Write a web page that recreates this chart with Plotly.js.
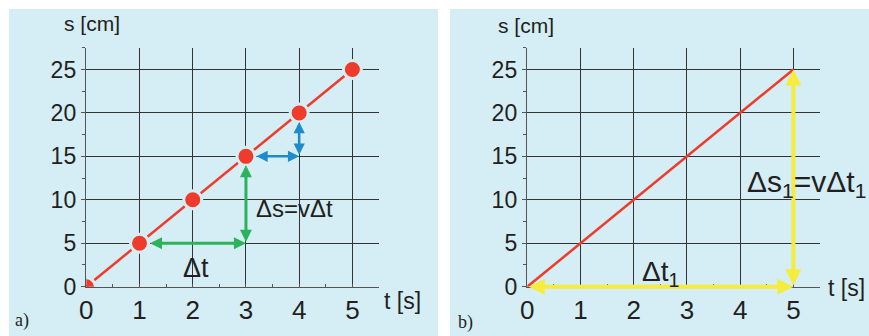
<!DOCTYPE html>
<html>
<head>
<meta charset="utf-8">
<script src="https://cdn.plot.ly/plotly-3.0.1.min.js"></script>
<style>html,body{margin:0;padding:0;background:#fff;}#chart{width:869px;height:336px;}</style>
</head>
<body>
<div id="chart"></div>
<script>
// Data
var tValues = [0, 1, 2, 3, 4, 5];          // t [s]
var sValues = [0, 5, 10, 15, 20, 25];      // s [cm]
var xTicks = [0, 1, 2, 3, 4, 5];
var yTicks = [0, 5, 10, 15, 20, 25];
var xTitle = 't [s]';
var yTitle = 's [cm]';
var panelLabels = ['a)', 'b)'];
var labelA1 = '\u0394s=v\u0394t';
var labelA2 = '\u0394t';
var labelB1 = '\u0394s<sub>1</sub>=v\u0394t<sub>1</sub>';
var labelB2 = '\u0394t<sub>1</sub>';

var BG = '#d5edf5';
var RED = '#ee3b2c';
var GREEN = '#2bb35c';
var BLUE = '#1d8bcc';
var YELLOW = '#f6ec3c';
var FONT = 'Liberation Sans, Arial, sans-serif';
var TXT = '#231f20';

var traces = [
  {x: tValues, y: sValues, xaxis: 'x', yaxis: 'y', mode: 'lines+markers', type: 'scatter',
   line: {color: RED, width: 2.5},
   marker: {color: RED, size: 18, line: {color: BG, width: 3}},
   hoverinfo: 'skip', showlegend: false},
  {x: [tValues[0], tValues[5]], y: [sValues[0], sValues[5]], xaxis: 'x2', yaxis: 'y2', mode: 'lines', type: 'scatter',
   line: {color: RED, width: 2.5}, hoverinfo: 'skip', showlegend: false}
];

function xaxis(dom, anchor) {
  return {domain: dom, anchor: anchor, range: [0, 5.5], tickvals: xTicks, ticktext: xTicks.map(String),
    showgrid: true, gridcolor: '#333', gridwidth: 1, zeroline: false,
    showline: true, linecolor: '#555', linewidth: 1.5,
    ticks: 'inside', ticklen: 0, tickcolor: '#555',
    minor: {dtick: 0.5, ticks: 'inside', ticklen: 3, tickcolor: '#555', showgrid: false},
    tickfont: {family: FONT, size: 26, color: TXT}, fixedrange: true};
}
function yaxis(anchor) {
  return {domain: [0.1467, 0.858], anchor: anchor, range: [0, 27.5], tickvals: yTicks, ticktext: yTicks.map(String),
    showgrid: true, gridcolor: '#333', gridwidth: 1, zeroline: false,
    showline: true, linecolor: '#555', linewidth: 1.5,
    ticks: 'outside', ticklen: 4, tickcolor: '#555',
    minor: {dtick: 2.5, ticks: 'outside', ticklen: 3, tickcolor: '#555', showgrid: false},
    tickfont: {family: FONT, size: 23, color: TXT}, fixedrange: true};
}

function arrow(xr, yr, x0, y0, x1, y1, color, w, size, st0, st1) {
  return {xref: xr, yref: yr, axref: xr, ayref: yr, x: x1, y: y1, ax: x0, ay: y0, text: '',
    showarrow: true, arrowhead: 2, startarrowhead: 2, arrowside: 'end+start', arrowcolor: color,
    arrowwidth: w, arrowsize: size, startarrowsize: size, standoff: st1, startstandoff: st0};
}
function label(xr, yr, x, y, text, size, family) {
  return {xref: xr, yref: yr, x: x, y: y, text: text, showarrow: false,
    font: {family: family || FONT, size: size, color: TXT}, xanchor: 'center', yanchor: 'middle'};
}

var annotations = [
  // panel a arrows
  arrow('x', 'y', tValues[1], sValues[1], tValues[3], sValues[1], GREEN, 3, 0.8, 9, 0),
  arrow('x', 'y', tValues[3], sValues[1], tValues[3], sValues[3], GREEN, 3, 0.8, 0, 9),
  arrow('x', 'y', tValues[3], sValues[3], tValues[4], sValues[3], BLUE, 2.5, 0.9, 9, 0),
  arrow('x', 'y', tValues[4], sValues[3], tValues[4], sValues[4], BLUE, 2.5, 0.9, 0, 9),
  // panel b arrows
  arrow('x2', 'y2', tValues[0], sValues[0], tValues[5], sValues[0], YELLOW, 4, 0.8, 0, 0),
  arrow('x2', 'y2', tValues[5], sValues[0], tValues[5], sValues[5], YELLOW, 4, 0.8, 0, 0),
  // text labels
  label('x', 'y', 3.92, 9.0, labelA1, 24),
  label('x', 'y', 2.07, 2.15, labelA2, 27),
  label('x2', 'y2', 5.25, 11.9, labelB1, 30),
  label('x2', 'y2', 2.51, 1.5, labelB2, 28),
  // axis titles
  label('paper', 'paper', 91.5 / 869, 1 - 24 / 336, yTitle, 21),
  label('paper', 'paper', 526 / 869, 1 - 26 / 336, yTitle, 21),
  label('paper', 'paper', 402 / 869, 1 - 301 / 336, xTitle, 23),
  label('paper', 'paper', 846 / 869, 1 - 288 / 336, xTitle, 23),
  // panel labels
  label('paper', 'paper', 21.5 / 869, 1 - 320.5 / 336, panelLabels[0], 18, 'Liberation Serif, Times New Roman, serif'),
  label('paper', 'paper', 466 / 869, 1 - 322 / 336, panelLabels[1], 18, 'Liberation Serif, Times New Roman, serif')
];

var layout = {
  width: 869, height: 336,
  margin: {l: 0, r: 0, t: 0, b: 0, pad: 0},
  paper_bgcolor: '#ffffff', plot_bgcolor: BG,
  showlegend: false,
  xaxis: xaxis([86.3 / 869, 379 / 869], 'y'),
  yaxis: yaxis('x'),
  xaxis2: xaxis([527.3 / 869, 820 / 869], 'y2'),
  yaxis2: yaxis('x2'),
  shapes: [
    {type: 'rect', xref: 'paper', yref: 'paper', x0: 9 / 869, x1: 438 / 869, y0: 0, y1: 1 - 9 / 336,
     fillcolor: BG, line: {width: 0}, layer: 'below'},
    {type: 'rect', xref: 'paper', yref: 'paper', x0: 450 / 869, x1: 1, y0: 0, y1: 1 - 9 / 336,
     fillcolor: BG, line: {width: 0}, layer: 'below'}
  ],
  annotations: annotations
};

Plotly.newPlot('chart', traces, layout, {displayModeBar: false, staticPlot: true});
</script>
</body>
</html>
